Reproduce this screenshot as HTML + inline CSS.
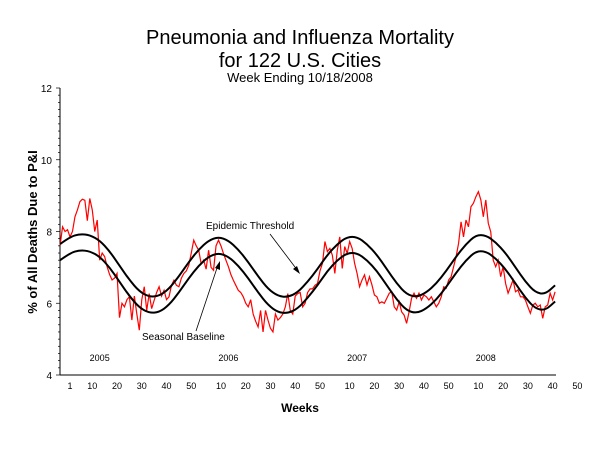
<!DOCTYPE html>
<html><head><meta charset="utf-8"><style>
body{margin:0;background:#fff}
svg{display:block;font-family:"Liberation Sans",Arial,sans-serif}
</style></head><body>
<svg width="600" height="450" viewBox="0 0 600 450">
<text x="300" y="44" font-size="20" text-anchor="middle">Pneumonia and Influenza Mortality</text>
<text x="300" y="67" font-size="20" text-anchor="middle">for 122 U.S. Cities</text>
<text x="300" y="82" font-size="13" text-anchor="middle">Week Ending 10/18/2008</text>
<text transform="translate(37,232) rotate(-90)" font-size="13" font-weight="bold" text-anchor="middle">% of All Deaths Due to P&amp;I</text>
<text x="300" y="412" font-size="12" font-weight="bold" text-anchor="middle">Weeks</text>
<g id="axes"></g>
<g id="series"></g>
<text x="206" y="229" font-size="10">Epidemic Threshold</text>
<line x1="270" y1="234" x2="298" y2="271" stroke="#000" stroke-width="0.8"/>
<polygon points="300,274 293,269 297,266" fill="#000"/>
<text x="142" y="340" font-size="10">Seasonal Baseline</text>
<line x1="196" y1="331" x2="218" y2="265" stroke="#000" stroke-width="0.8"/>
<polygon points="220,261 220,270 215,268" fill="#000"/>
</svg>
<script>
const startIndex = -4;
const pi = [7.62,8.13,8.0,8.05,7.85,8.0,8.41,8.6,8.83,8.9,8.87,8.3,8.92,8.6,8.0,8.32,7.2,7.4,7.3,7.02,6.8,6.65,6.7,6.83,5.6,6.0,5.9,6.1,6.18,5.53,6.2,5.7,5.25,6.1,6.46,5.8,6.27,5.85,6.08,6.3,6.46,6.2,6.36,6.1,6.18,6.5,6.64,6.5,6.46,6.7,6.83,6.9,7.06,7.4,7.76,7.6,7.48,7.1,7.2,6.95,7.48,7.0,6.92,7.6,7.76,7.6,7.39,7.2,7.02,6.8,6.64,6.5,6.36,6.3,6.18,6.0,5.9,6.1,5.7,5.5,5.34,5.8,5.2,5.8,5.53,5.3,5.2,5.7,5.53,5.6,5.7,5.9,6.27,5.8,5.7,6.2,6.27,6.3,5.9,6.0,6.3,6.4,6.4,6.5,6.55,
6.9,7.11,7.72,7.44,7.53,7.34,6.83,7.48,7.85,6.97,7.58,7.39,7.72,7.53,7.11,6.83,6.46,6.65,6.79,6.51,6.74,6.51,6.23,6.18,6.0,6.04,6.0,6.14,6.28,6.32,5.9,5.81,6.04,5.76,5.67,5.44,5.76,6.14,6.28,6.14,6.28,6.09,6.23,6.18,6.09,6.18,6.04,5.9,6.0,6.18,6.46,6.42,6.65,6.74,7.02,7.3,7.67,8.27,7.85,8.32,8.13,8.69,8.79,8.97,9.11,8.88,8.41,8.88,8.23,7.99,7.2,7.02,7.2,6.74,7.02,6.55,6.28,6.46,6.65,6.32,6.37,6.18,6.18,6.09,5.9,5.72,5.95,6.0,5.9,5.95,5.58,5.9,5.95,6.28,6.09,6.32];
const curveStep = 4;
const baseline = [7.2,7.4,7.48,7.45,7.3,7.0,6.6,6.2,5.88,5.73,5.75,5.95,6.3,6.7,7.05,7.3,7.4,7.3,7.05,6.7,6.3,5.95,5.75,5.72,5.85,6.15,6.5,6.9,7.2,7.4,7.4,7.2,6.9,6.5,6.1,5.8,5.72,5.85,6.1,6.45,6.85,7.2,7.45,7.45,7.25,6.95,6.55,6.15,5.85,5.8,6.05];
const threshold = [7.65,7.85,7.93,7.9,7.75,7.45,7.05,6.65,6.33,6.18,6.2,6.4,6.75,7.15,7.5,7.75,7.85,7.75,7.5,7.15,6.75,6.4,6.2,6.17,6.3,6.6,6.95,7.35,7.65,7.85,7.85,7.65,7.35,6.95,6.55,6.25,6.17,6.3,6.55,6.9,7.3,7.65,7.9,7.9,7.7,7.4,7.0,6.6,6.3,6.25,6.5];
const yTicks = [4,6,8,10,12];
const years = [2005,2006,2007,2008];
const weekTicks = [1,10,20,30,40,50];
const lastYearWeeks = [10,20,30,40,50];

const NS="http://www.w3.org/2000/svg";
const X = i => 70 + 2.475*i;
const Y = v => 375 - (v-4)*35.875;
function mk(tag, attrs, parent, text){const e=document.createElementNS(NS,tag);for(const k in attrs)e.setAttribute(k,attrs[k]);if(text!==undefined)e.textContent=text;parent.appendChild(e);return e;}
const axes=document.getElementById('axes'), ser=document.getElementById('series');

let e=mk('line',{x1:60,y1:Y(12),x2:60,y2:375,stroke:'#000','stroke-width':1},axes);


e=mk('line',{x1:60,y1:375,x2:556,y2:375,stroke:'#000','stroke-width':1},axes);


for(let v=4; v<=12.001; v+=0.2){
  const major = Math.abs(v-Math.round(v))<0.01 && Math.round(v)%2===0;
  e=mk('line',{x1:major?56:58,y1:Y(v),x2:60,y2:Y(v),stroke:'#000','stroke-width':0.7},axes);
  
  
}
yTicks.forEach(t=>{
  e=mk('text',{x:52,y:Y(t)+4,'font-size':10,'text-anchor':'end'},axes,String(t));
  
  
});
years.forEach((yr,k)=>{
  const ws = k===0?weekTicks:(k===years.length-1?lastYearWeeks:weekTicks.slice(1));
  ws.forEach(w=>{
    const i=(yr-2005)*52+w-1;
    e=mk('text',{x:X(i),y:389,'font-size':9,'text-anchor':'middle'},axes,String(w));
    
    
  });
  e=mk('text',{x:X((yr-2005)*52+12),y:361,'font-size':9,'text-anchor':'middle'},axes,String(yr));
  
  
});
function smooth(arr){
  const p=arr.map((v,k)=>[X(startIndex+k*curveStep),Y(v)]);
  let d='M'+p[0][0]+','+p[0][1];
  for(let k=1;k<p.length-1;k++){const mx=(p[k][0]+p[k+1][0])/2,my=(p[k][1]+p[k+1][1])/2;d+=' Q'+p[k][0]+','+p[k][1]+' '+mx+','+my;}
  const l=p[p.length-1];d+=' L'+l[0]+','+l[1];return d;
}
e=mk('polyline',{points:pi.map((v,k)=>X(startIndex+k)+','+Y(v)).join(' '),fill:'none',stroke:'#ff0000','stroke-width':1.2},ser);


e=mk('path',{d:smooth(baseline),fill:'none',stroke:'#000','stroke-width':2},ser);


e=mk('path',{d:smooth(threshold),fill:'none',stroke:'#000','stroke-width':2},ser);


</script>
</body></html>
